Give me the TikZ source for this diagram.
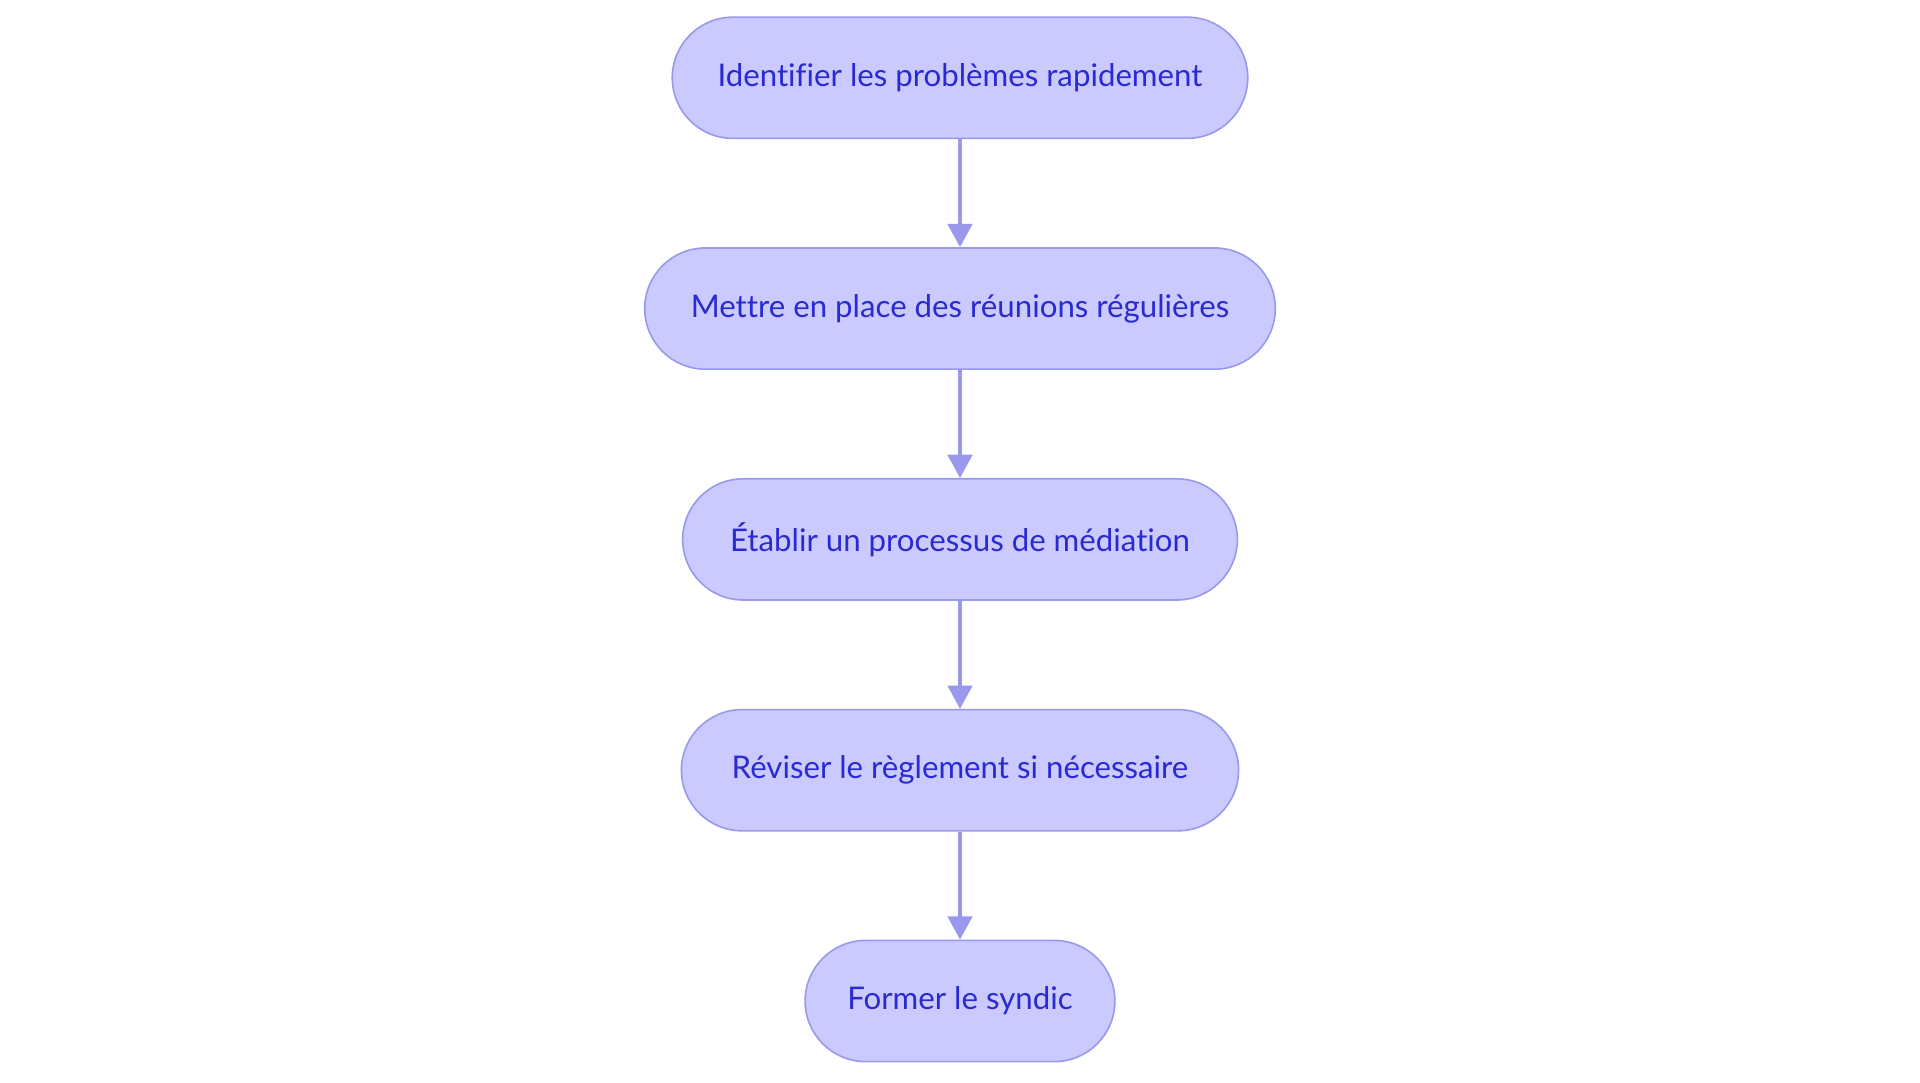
\documentclass[tikz,border=0pt]{standalone}
\usepackage{fontspec}
\setmainfont{Lato}[Ligatures=NoCommon]
\usetikzlibrary{arrows.meta}
\definecolor{fillc}{HTML}{CACAFF}
\definecolor{linec}{HTML}{9898EC}
\definecolor{textc}{HTML}{2A2AD2}
\begin{document}
\begin{tikzpicture}[x=1pt,y=-1pt,
 box/.style={draw=linec,line width=1.3pt,fill=fillc,rounded corners=49.5pt,minimum height=99pt,text=textc,font=\fontsize{25.5}{28}\selectfont,inner sep=0pt,anchor=center},
 arr/.style={draw=linec,line width=2.6pt,-{Triangle[length=19pt,width=20pt]}}]
\useasboundingbox (0,0) rectangle (1568,884);
\node[box,minimum width=470pt] (a) at (784,63.5) {Identifier les problèmes rapidement};
\node[box,minimum width=515pt] (b) at (784,252) {Mettre en place des réunions régulières};
\node[box,minimum width=453pt] (c) at (784,440.5) {Établir un processus de médiation};
\node[box,minimum width=455pt] (d) at (784,629) {Réviser le règlement si nécessaire};
\node[box,minimum width=253pt] (e) at (784,817.5) {Former le syndic};
\draw[arr] (a) -- (b);
\draw[arr] (b) -- (c);
\draw[arr] (c) -- (d);
\draw[arr] (d) -- (e);
\end{tikzpicture}
\end{document}
